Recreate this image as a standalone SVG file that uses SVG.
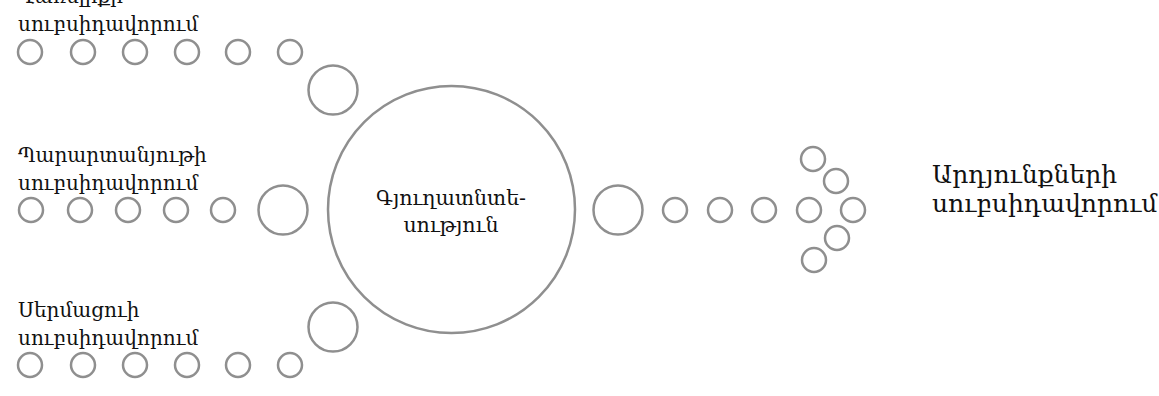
<svg xmlns="http://www.w3.org/2000/svg" width="1159" height="396" viewBox="0 0 1159 396">
<style>
.c{fill:#fff;stroke:#8f8f8f;stroke-width:2.5}
.t{font-family:"DejaVu Serif","Liberation Serif",serif;font-size:20px;fill:#111}
.tc{font-family:"DejaVu Serif","Liberation Serif",serif;font-size:20.5px;fill:#111;text-anchor:middle}
.tr{font-family:"DejaVu Serif","Liberation Serif",serif;font-size:25px;fill:#111}
</style>
<rect width="1159" height="396" fill="#fff"/>
<g id="connectors">
<g id="row-top">
<circle class="c" cx="30" cy="52" r="12"/><circle class="c" cx="83" cy="52" r="12"/><circle class="c" cx="135" cy="52" r="12"/><circle class="c" cx="187" cy="52" r="12"/><circle class="c" cx="238" cy="52" r="12"/><circle class="c" cx="290" cy="52" r="12"/>
<circle class="c" cx="333" cy="90" r="24.5"/>
</g>
<g id="row-mid">
<circle class="c" cx="31" cy="210" r="12"/><circle class="c" cx="80" cy="210" r="12"/><circle class="c" cx="128" cy="210" r="12"/><circle class="c" cx="176" cy="210" r="12"/><circle class="c" cx="223" cy="210" r="12"/>
<circle class="c" cx="283" cy="210" r="24.5"/>
</g>
<g id="row-bot">
<circle class="c" cx="30" cy="365" r="12"/><circle class="c" cx="83" cy="365" r="12"/><circle class="c" cx="135" cy="365" r="12"/><circle class="c" cx="187" cy="365" r="12"/><circle class="c" cx="238" cy="365" r="12"/><circle class="c" cx="290" cy="365" r="12"/>
<circle class="c" cx="333" cy="327" r="24.5"/>
</g>
<g id="arrow-out">
<circle class="c" cx="618" cy="210" r="24.5"/>
<circle class="c" cx="675" cy="210" r="12"/><circle class="c" cx="720" cy="210" r="12"/><circle class="c" cx="764" cy="210" r="12"/><circle class="c" cx="809" cy="210" r="12"/><circle class="c" cx="853" cy="210" r="12"/>
<circle class="c" cx="813" cy="159" r="12"/><circle class="c" cx="836" cy="181" r="12"/><circle class="c" cx="837" cy="238" r="12"/><circle class="c" cx="814" cy="260" r="12"/>
</g>
</g>
<g id="node-fuel"><text class="t" x="18" y="3">Վառելիքի</text><text class="t" x="18" y="31">սուբսիդավորում</text></g>
<g id="node-fert"><text class="t" x="18" y="162">Պարարտանյութի</text><text class="t" x="18" y="190">սուբսիդավորում</text></g>
<g id="node-seed"><text class="t" x="18" y="317">Սերմացուի</text><text class="t" x="18" y="345">սուբսիդավորում</text></g>
<g id="node-center"><circle class="c" cx="451.5" cy="209.5" r="123.5"/><text class="tc" x="451" y="205">Գյուղատնտե-</text><text class="tc" x="451" y="232">սություն</text></g>
<g id="node-result"><text class="tr" x="932" y="183">Արդյունքների</text><text class="tr" x="932" y="212">սուբսիդավորում</text></g>
</svg>
